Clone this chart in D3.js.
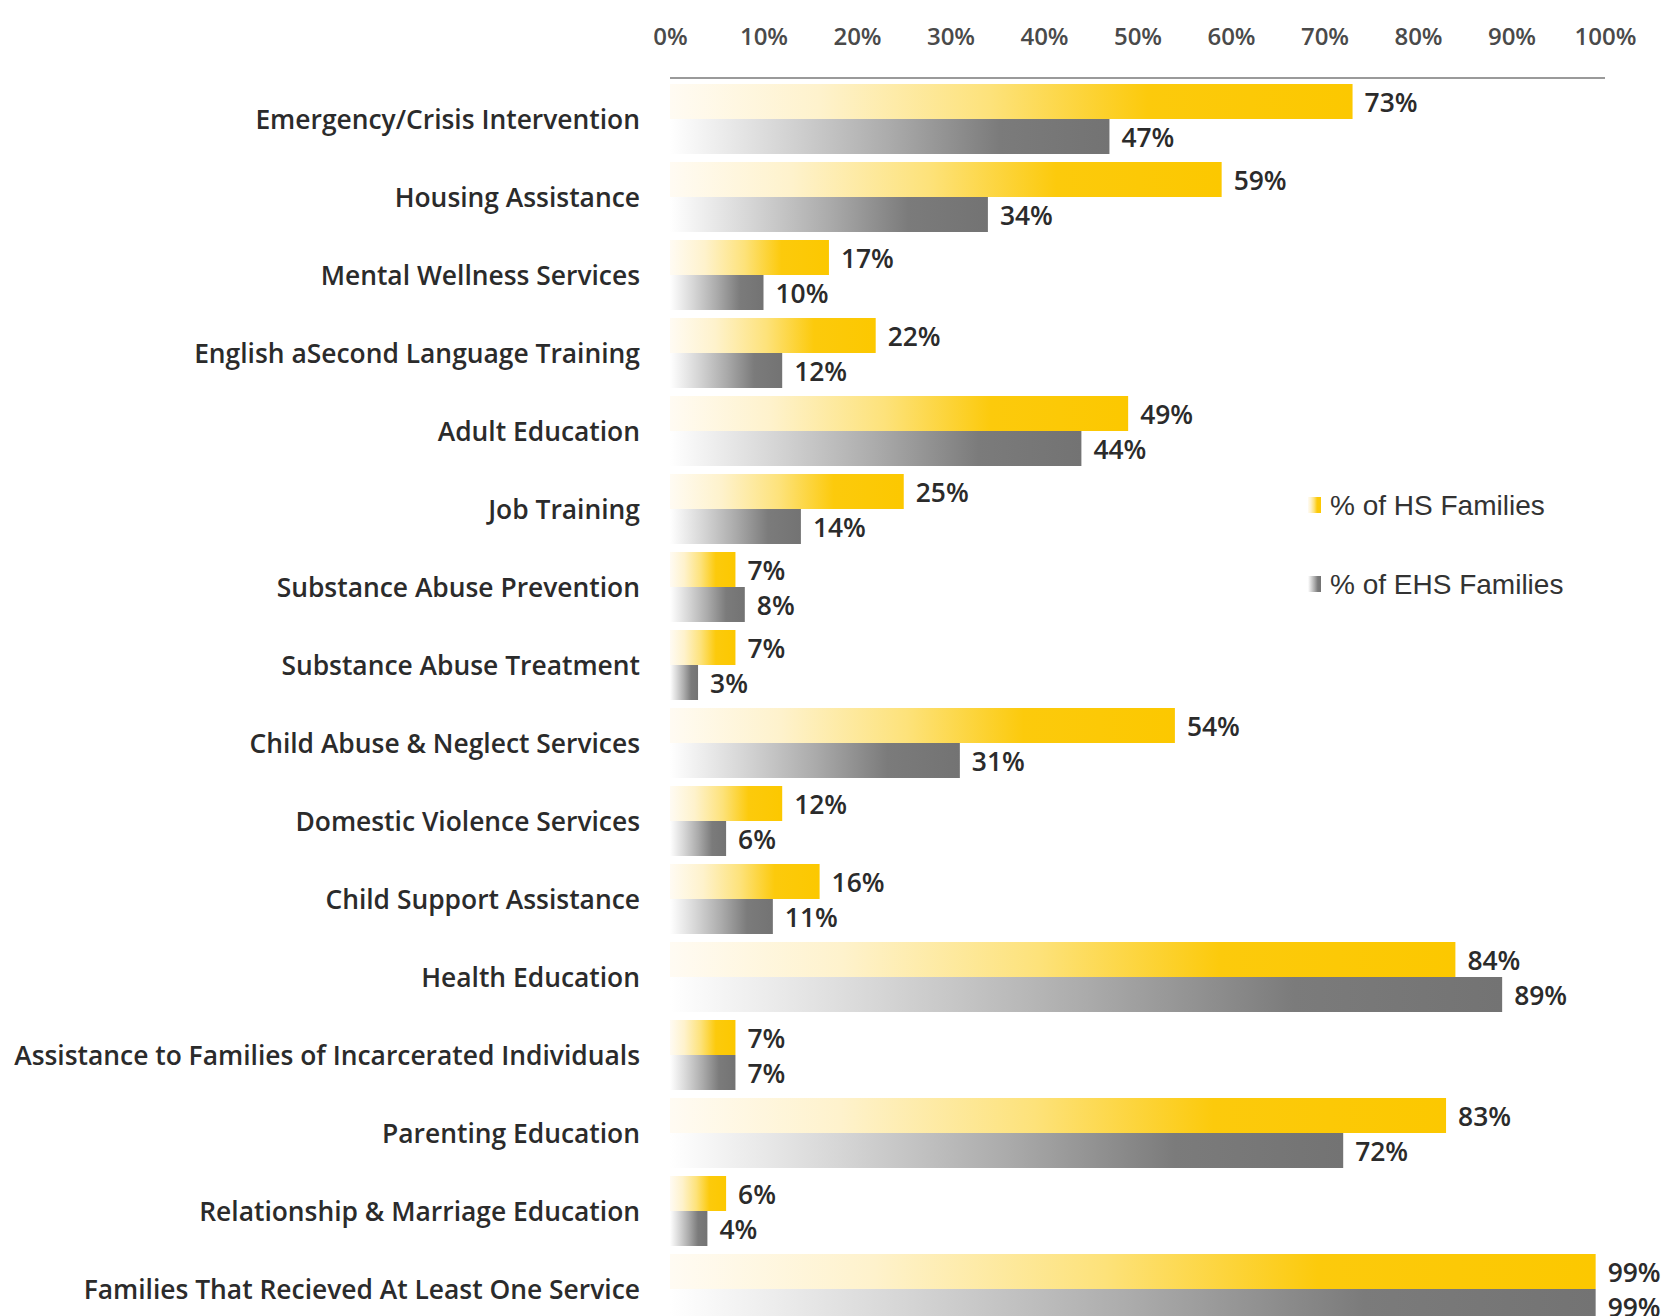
<!DOCTYPE html>
<html>
<head>
<meta charset="utf-8">
<script src="https://cdn.jsdelivr.net/npm/d3@7"></script>
<style>
  html, body { margin: 0; padding: 0; background: #fff; }
  svg { display: block; }
</style>
</head>
<body>
<script>
const categories = [
  "Emergency/Crisis Intervention",
  "Housing Assistance",
  "Mental Wellness Services",
  "English aSecond Language Training",
  "Adult Education",
  "Job Training",
  "Substance Abuse Prevention",
  "Substance Abuse Treatment",
  "Child Abuse & Neglect Services",
  "Domestic Violence Services",
  "Child Support Assistance",
  "Health Education",
  "Assistance to Families of Incarcerated Individuals",
  "Parenting Education",
  "Relationship & Marriage Education",
  "Families That Recieved At Least One Service"
];
const hsValues  = [73, 59, 17, 22, 49, 25, 7, 7, 54, 12, 16, 84, 7, 83, 6, 99];
const ehsValues = [47, 34, 10, 12, 44, 14, 8, 3, 31, 6, 11, 89, 7, 72, 4, 99];
const seriesNames = ["% of HS Families", "% of EHS Families"];
const tickValues = [0, 10, 20, 30, 40, 50, 60, 70, 80, 90, 100];

const W = 1669, H = 1316;
const svg = d3.select("body").append("svg").attr("width", W).attr("height", H);

const defs = svg.append("defs");
const gy = defs.append("linearGradient").attr("id", "gradY").attr("x1", "0").attr("x2", "1").attr("y1", "0").attr("y2", "0");
[[0, "#fffbf3"], [0.22, "#fef2cc"], [0.47, "#fde27a"], [0.7, "#fcca0c"], [1, "#fcc800"]]
  .forEach(([o, c]) => gy.append("stop").attr("offset", o).attr("stop-color", c));
const gg = defs.append("linearGradient").attr("id", "gradG").attr("x1", "0").attr("x2", "1").attr("y1", "0").attr("y2", "0");
[[0, "#ffffff"], [0.25, "#d6d6d6"], [0.5, "#ababab"], [0.75, "#7b7b7b"], [1, "#737373"]]
  .forEach(([o, c]) => gg.append("stop").attr("offset", o).attr("stop-color", c));

const x = d3.scaleLinear().domain([0, 100]).range([670, 1605]);
const y = d3.scaleBand().domain(categories).range([80, 80 + 78 * categories.length]).paddingInner(0).paddingOuter(0);
const sub = d3.scaleBand().domain(["hs", "ehs"]).range([4, 74]).padding(0);

const labelFont = "'Open Sans', Lato, sans-serif";

// top axis
const axis = d3.axisTop(x).tickValues(tickValues).tickFormat(d => d + "%").tickSize(0).tickPadding(0);
const ax = svg.append("g").attr("transform", "translate(0,45)").call(axis);
ax.select(".domain").remove();
ax.selectAll("text").attr("font-family", labelFont).attr("font-size", 24).attr("font-weight", 600).attr("fill", "#4a4a4a");

// axis line
svg.append("line").attr("x1", x(0)).attr("x2", x(100)).attr("y1", 78).attr("y2", 78)
  .attr("stroke", "#9a9a9a").attr("stroke-width", 2);

// category labels
svg.append("g").selectAll("text").data(categories).join("text")
  .attr("x", 640).attr("y", d => y(d) + y.bandwidth() / 2)
  .attr("text-anchor", "end").attr("dominant-baseline", "central")
  .attr("font-family", labelFont).attr("font-size", 26.4).attr("font-weight", 600).attr("fill", "#2b2b2b")
  .text(d => d);

const rows = categories.map((c, i) => ({ c, hs: hsValues[i], ehs: ehsValues[i] }));
const g = svg.append("g");
rows.forEach(r => {
  const y0 = y(r.c);
  [["hs", r.hs, "url(#gradY)"], ["ehs", r.ehs, "url(#gradG)"]].forEach(([k, v, fill]) => {
    g.append("rect").attr("x", x(0)).attr("y", y0 + sub(k)).attr("width", x(v) - x(0)).attr("height", sub.bandwidth())
      .attr("fill", fill);
    g.append("text").attr("x", x(v) + 12).attr("y", y0 + sub(k) + sub.bandwidth() / 2)
      .attr("dominant-baseline", "central")
      .attr("font-family", labelFont).attr("font-size", 26.4).attr("font-weight", 600).attr("fill", "#2b2b2b")
      .text(v + "%");
  });
});

// legend
const leg = svg.append("g");
[["url(#gradY)", 505], ["url(#gradG)", 584]].forEach(([f, cy], i) => {
  leg.append("rect").attr("x", 1308).attr("y", cy - 8).attr("width", 13).attr("height", 16).attr("fill", f);
  leg.append("text").attr("x", 1330).attr("y", cy).attr("dominant-baseline", "central")
    .attr("font-family", "'Liberation Sans', Arial, sans-serif").attr("font-size", 28).attr("fill", "#333")
    .text(seriesNames[i]);
});
</script>
</body>
</html>
